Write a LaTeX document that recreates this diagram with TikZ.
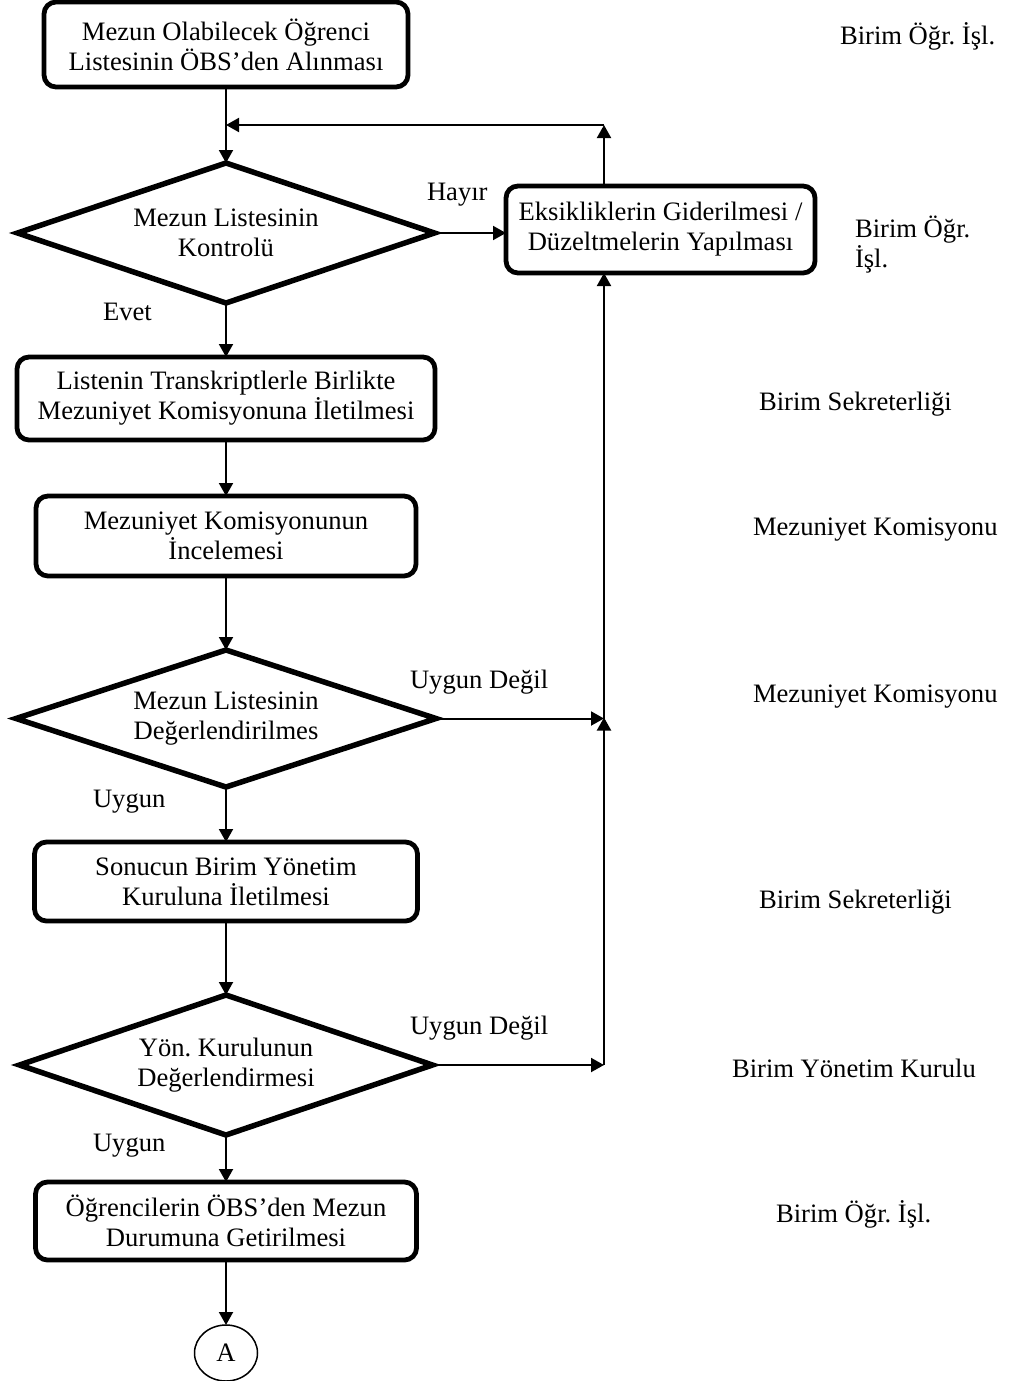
\documentclass[tikz,border=0pt]{standalone}
\usepackage{fontspec}
\setmainfont{Liberation Serif}
\usetikzlibrary{shapes.geometric,arrows.meta}
\frenchspacing
\begin{document}
\begin{tikzpicture}[x=1pt,y=-1pt,
  font=\fontsize{26.6}{30}\selectfont,
  proc/.style={draw, line width=4.8pt, rounded corners=12pt, align=center, inner sep=0pt, outer sep=0pt},
  dec/.style={draw, diamond, aspect=3, line width=5.5pt, align=center, inner sep=0pt, outer sep=0pt},
  arr/.style={line width=2pt, -{Triangle[length=13pt,width=14pt]}},
  lab/.style={anchor=base west, inner sep=0pt, outer sep=0pt}]
\useasboundingbox (0,0) rectangle (1021,1381);

% main column
\node[proc, minimum width=364pt, minimum height=85pt] (b1) at (226,44.5) {Mezun Olabilecek Öğrenci\\Listesinin ÖBS’den Alınması};
\node[dec, minimum width=417pt, minimum height=140pt] (d1) at (226,233) {Mezun Listesinin\\Kontrolü};
\node[proc, minimum width=309pt, minimum height=87pt] (b2) at (660.5,229.5) {Eksikliklerin Giderilmesi /\\Düzeltmelerin Yapılması};
\node[proc, minimum width=418pt, minimum height=83pt] (b3) at (226,398.5) {Listenin Transkriptlerle Birlikte\\Mezuniyet Komisyonuna İletilmesi};
\node[proc, minimum width=380pt, minimum height=80pt] (b4) at (226,536) {Mezuniyet Komisyonunun\\İncelemesi};
\node[dec, minimum width=420pt, minimum height=137pt] (d2) at (226,718.5) {Mezun Listesinin\\Değerlendirilmes};
\node[proc, minimum width=383pt, minimum height=79pt] (b5) at (226,881.5) {Sonucun Birim Yönetim\\Kuruluna İletilmesi};
\node[dec, minimum width=413pt, minimum height=140pt] (d3) at (226,1065) {Yön. Kurulunun\\Değerlendirmesi};
\node[proc, minimum width=381pt, minimum height=78pt] (b6) at (226,1221) {Öğrencilerin ÖBS’den Mezun\\Durumuna Getirilmesi};
\node[draw, ellipse, line width=1.5pt, minimum width=63pt, minimum height=56pt, inner sep=0pt, outer sep=0pt] (A) at (226,1353) {A};

% coordinates of the return column
\coordinate (c1) at (604,125);
\coordinate (c2) at (604,718.5);
\coordinate (c3) at (604,1065);

% connectors
\draw[arr] (b1.south) -- (d1.north);
\draw[arr] (d1.east) -- (d1.east -| b2.west);
\draw[arr] (b2.north -| c1) -- (c1);
\draw[arr] (c1) -- (c1 -| b1.south);
\draw[arr] (d1.south) -- (b3.north);
\draw[arr] (b3.south) -- (b4.north);
\draw[arr] (b4.south) -- (d2.north);
\draw[arr] (d2.east) -- (c2);
\draw[arr] (d2.south) -- (b5.north);
\draw[arr] (b5.south) -- (d3.north);
\draw[arr] (d3.east) -- (c3);
\draw[arr] (c3) -- ([yshift=1pt]c2);
\draw[arr] (c2) -- (b2.south -| c2);
\draw[arr] (d3.south) -- (b6.north);
\draw[arr] (b6.south) -- (A.north);

% branch labels
\node[lab] (l1) at (427,200) {Hayır};
\node[lab] (l2) at (103,320) {Evet};
\node[lab] (l3) at (410,688) {Uygun Değil};
\node[lab] (l4) at (93,807) {Uygun};
\node[lab] (l5) at (410,1034) {Uygun Değil};
\node[lab] (l6) at (93,1151) {Uygun};

% responsible units
\node[lab] (r1) at (840,45) {Birim Öğr. İşl.};
\node[anchor=north west, align=left, inner sep=0pt, outer sep=0pt] (r2) at (855,216) {Birim Öğr.\\İşl.};
\node[lab] (r3) at (759,410) {Birim Sekreterliği};
\node[lab] (r4) at (753,535) {Mezuniyet Komisyonu};
\node[lab] (r5) at (753,702) {Mezuniyet Komisyonu};
\node[lab] (r6) at (759,908) {Birim Sekreterliği};
\node[lab] (r7) at (732,1077) {Birim Yönetim Kurulu};
\node[lab] (r8) at (776,1222) {Birim Öğr. İşl.};
\end{tikzpicture}
\end{document}
